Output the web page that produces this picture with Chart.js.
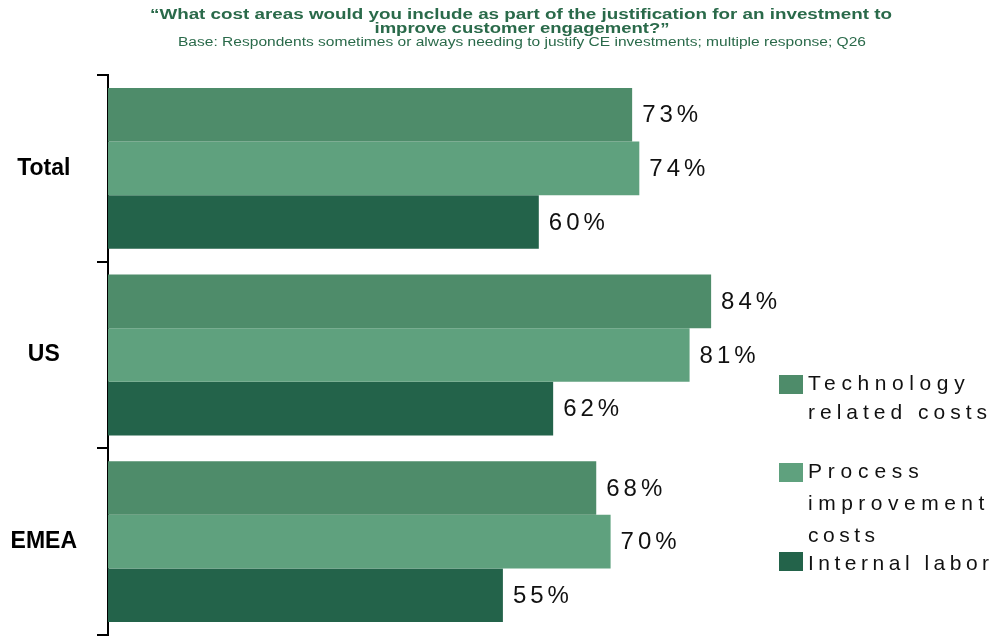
<!DOCTYPE html>
<html>
<head>
<meta charset="utf-8">
<script src="https://cdn.jsdelivr.net/npm/chart.js@4/dist/chart.umd.min.js"></script>
<style>
  html, body { margin: 0; padding: 0; background: #fff; }
  #wrap { position: relative; width: 995px; height: 636px; }
  .leg { position: absolute; font-family: "Liberation Sans", Arial, sans-serif; font-size: 21px; letter-spacing: 4.5px; color: #111; line-height: 29px; white-space: nowrap; }
  .sw { position: absolute; width: 24px; height: 19px; }
</style>
</head>
<body>
<div id="wrap">
  <canvas id="c" width="995" height="636"></canvas>
  <div class="sw" style="left:779px;top:375px;background:#4e8c6a"></div>
  <div class="leg" style="left:808px;top:368px"><span style="letter-spacing:5.6px">Technology</span><br><span style="letter-spacing:5px">related costs</span></div>
  <div class="sw" style="left:779px;top:463px;background:#5fa17e"></div>
  <div class="leg" style="left:808px;top:455px;line-height:32px"><span style="letter-spacing:5.8px">Process</span><br><span style="letter-spacing:5.5px">improvement</span><br>costs</div>
  <div class="sw" style="left:779px;top:552px;background:#23634a"></div>
  <div class="leg" style="left:808px;top:548px">Internal labor</div>
</div>
<script>
// --- data ---
const regions = ['Total', 'US', 'EMEA'];
const techCosts = [73, 84, 68];
const processCosts = [74, 81, 70];
const laborCosts = [60, 62, 55];
const seriesNames = ['Technology related costs', 'Process improvement costs', 'Internal labor'];
const seriesColors = ['#4e8c6a', '#5fa17e', '#23634a'];

const titleLines = [
  '\u201cWhat cost areas would you include as part of the justification for an investment to',
  'improve customer engagement?\u201d'
];
const subtitleText = 'Base: Respondents sometimes or always needing to justify CE investments; multiple response; Q26';

// draws a line of text centred on cx, stretched horizontally to the given width
function stretchText(ctx, text, cx, cy, width) {
  const w = ctx.measureText(text).width;
  ctx.save();
  ctx.translate(cx, cy);
  ctx.scale(width / w, 1);
  ctx.fillText(text, 0, 0);
  ctx.restore();
}

// --- plugins ---
const titleBlock = {
  id: 'titleBlock',
  afterDraw(chart) {
    const ctx = chart.ctx;
    ctx.save();
    ctx.fillStyle = '#2a6a4a';
    ctx.textAlign = 'center';
    ctx.textBaseline = 'middle';
    ctx.font = 'bold 14px "Liberation Sans", Arial, sans-serif';
    stretchText(ctx, titleLines[0], 521, 15, 742);
    stretchText(ctx, titleLines[1], 522, 29, 295);
    ctx.font = '12px "Liberation Sans", Arial, sans-serif';
    stretchText(ctx, subtitleText, 522, 43, 688);
    ctx.restore();
  }
};

const valueLabels = {
  id: 'valueLabels',
  afterDatasetsDraw(chart) {
    const ctx = chart.ctx;
    ctx.save();
    ctx.fillStyle = '#111';
    ctx.font = '24px "Liberation Sans", Arial, sans-serif';
    ctx.letterSpacing = '4px';
    ctx.textAlign = 'left';
    ctx.textBaseline = 'middle';
    chart.data.datasets.forEach((ds, i) => {
      chart.getDatasetMeta(i).data.forEach((bar, j) => {
        ctx.fillText(ds.data[j] + '%', bar.x + 10, bar.y + 1);
      });
    });
    ctx.restore();
  }
};

new Chart(document.getElementById('c'), {
  type: 'bar',
  data: {
    labels: regions,
    datasets: [
      { label: seriesNames[0], data: techCosts, backgroundColor: seriesColors[0] },
      { label: seriesNames[1], data: processCosts, backgroundColor: seriesColors[1] },
      { label: seriesNames[2], data: laborCosts, backgroundColor: seriesColors[2] }
    ]
  },
  options: {
    indexAxis: 'y',
    responsive: false,
    animation: false,
    layout: { padding: { top: 75, right: 169, bottom: 1, left: 0 } },
    datasets: { bar: { barPercentage: 1, categoryPercentage: 0.862 } },
    plugins: { legend: { display: false }, tooltip: { enabled: false } },
    scales: {
      x: { display: false, min: 0, max: 100 },
      y: {
        afterFit(scale) {
          scale.width = 108;
          scale.paddingTop = 0;
          scale.paddingBottom = 0;
        },
        border: { display: true, color: '#000', width: 2 },
        grid: { drawOnChartArea: false, color: '#000', lineWidth: 2, tickLength: 11, offset: true },
        ticks: {
          crossAlign: 'center',
          padding: 20,
          color: '#000',
          font: { family: '"Liberation Sans", Arial, sans-serif', size: 23, weight: 'bold' }
        }
      }
    }
  },
  plugins: [titleBlock, valueLabels]
});
</script>
</body>
</html>
